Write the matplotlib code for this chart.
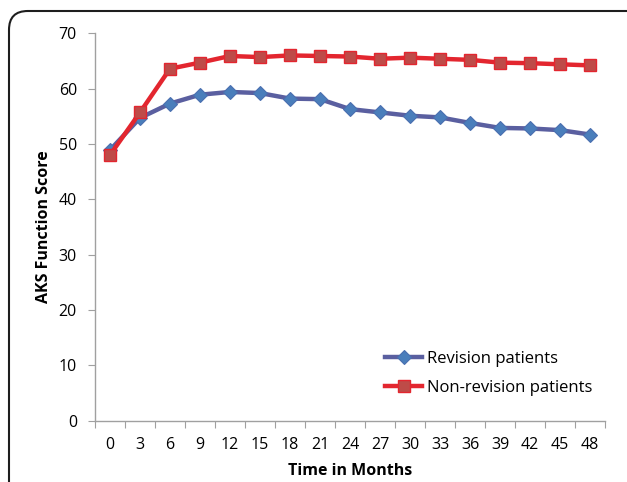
import matplotlib
matplotlib.use("Agg")
import matplotlib.pyplot as plt
from matplotlib.patches import FancyBboxPatch

months = [0, 3, 6, 9, 12, 15, 18, 21, 24, 27, 30, 33, 36, 39, 42, 45, 48]
revision = [48.9, 54.7, 57.3, 58.9, 59.4, 59.2, 58.2, 58.1, 56.3, 55.7, 55.1, 54.8, 53.8, 52.9, 52.8, 52.5, 51.7]
non_revision = [48.0, 55.7, 63.6, 64.7, 65.9, 65.7, 66.0, 65.9, 65.8, 65.4, 65.6, 65.4, 65.2, 64.7, 64.6, 64.4, 64.2]
yticks = [0, 10, 20, 30, 40, 50, 60, 70]

plt.rcParams['font.family'] = ['Open Sans', 'DejaVu Sans']

fig = plt.figure(figsize=(6.27, 4.82), dpi=100)
W, H = 627, 482
ax = fig.add_axes([95 / W, 1 - 420.6 / H, 510 / W, 387.3 / H])

pos = list(range(len(months)))
ax.plot(pos, revision, color='#5A5FA0', lw=3.2, marker='D', ms=7.5,
        mfc='#4A7EBB', mec='#4A6FB0', mew=0.8, label='Revision patients', zorder=3)
ax.plot(pos, non_revision, color='#E3262F', lw=3.2, marker='s', ms=9,
        mfc='#BE4B48', mec='#E3262F', mew=1.0, label='Non-revision patients', zorder=3)

ax.set_xlim(-0.5, len(months) - 0.5)
ax.set_ylim(0, 70)
ax.set_yticks(yticks)
ax.set_yticklabels([str(v) for v in yticks])
ax.set_xticks([p - 0.5 for p in pos] + [len(months) - 0.5])
ax.set_xticklabels([])
ax.set_xticks(pos, minor=True)
ax.set_xticklabels([str(m) for m in months], minor=True)
ax.tick_params(axis='x', which='major', length=5, color='#A0A0A0', direction='out')
ax.tick_params(axis='x', which='minor', length=0, pad=12, labelsize=11.5)
ax.tick_params(axis='y', length=5, color='#A0A0A0', direction='out', pad=8, labelsize=11.5)

for s in ['top', 'right']:
    ax.spines[s].set_visible(False)
for s in ['left', 'bottom']:
    ax.spines[s].set_color('#A0A0A0')
    ax.spines[s].set_linewidth(1.0)

ax.set_xlabel('Time in Months', fontweight='bold', fontsize=11.5, labelpad=7)
ax.set_ylabel('AKS Function Score', fontweight='bold', fontsize=11.5, labelpad=5)

leg = ax.legend(loc='lower left', bbox_to_anchor=(0.54, 0.025), frameon=False,
                fontsize=12, handlelength=2.2, handletextpad=0.3, labelspacing=0.8)

# rounded border frame
border = FancyBboxPatch((9 / W, -0.2), 1.2, 1.2 - 11 / H,
                        boxstyle='round,pad=0,rounding_size=0.03',
                        transform=fig.transFigure, fill=False,
                        edgecolor='#1E1E1E', lw=1.5, clip_on=False,
                        mutation_aspect=W / H)
fig.patches.append(border)

fig.savefig('out.png', dpi=100)
